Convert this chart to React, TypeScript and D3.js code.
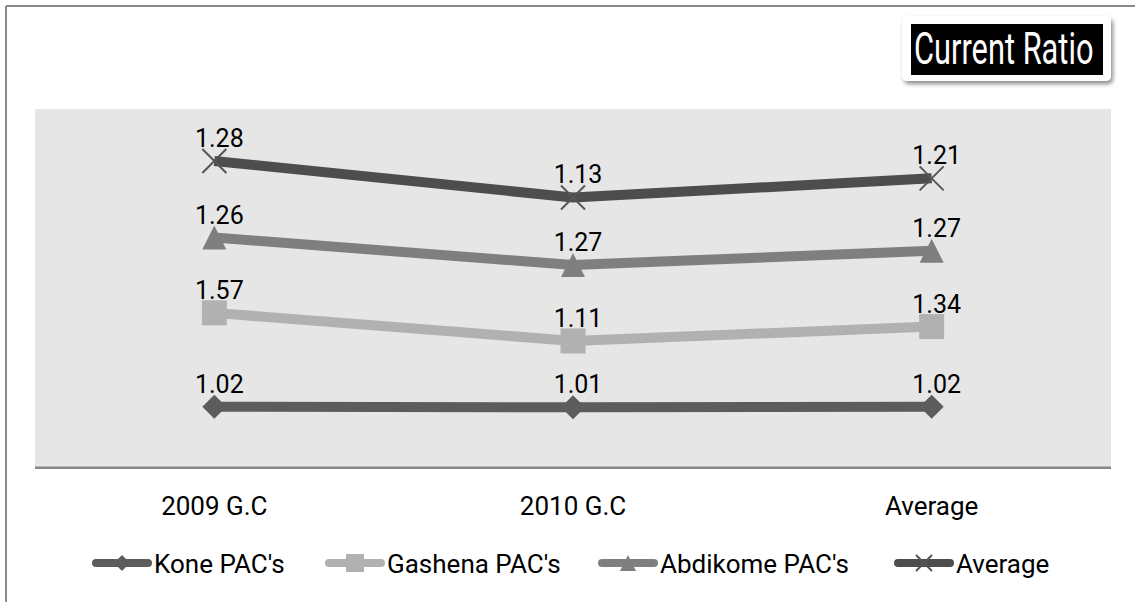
import React from "react";
import * as d3 from "d3";

const categories = ["2009 G.C", "2010 G.C", "Average"];
const seriesNames = ["Kone PAC's", "Gashena PAC's", "Abdikome PAC's", "Average"];
const kone = [1.02, 1.01, 1.02];
const gashena = [1.57, 1.11, 1.34];
const abdikome = [1.26, 1.27, 1.27];
const average = [1.28, 1.13, 1.21];
const yDomain = [0, 6];
const title = "Current Ratio";

const W = 1135;
const H = 602;
const plot = { x0: 35, x1: 1111, y0: 109, y1: 467.7 };

const colors = ["#5c5c5c", "#b1b1b1", "#7f7f7f", "#4d4d4d"];
const markerKinds = ["diamond", "square", "triangle", "x"];
const legendX = [92, 325, 598, 894];
const FONT = "Roboto, 'Liberation Sans', sans-serif";

function markerPath(kind: string, s: number): string {
  const h = s / 2;
  if (kind === "diamond") return `M0,${-h}L${h},0L0,${h}L${-h},0Z`;
  if (kind === "square") return `M${-h},${-h}H${h}V${h}H${-h}Z`;
  if (kind === "triangle") return `M0,${-h}L${h},${h}L${-h},${h}Z`;
  return `M${-h},${-h}L${h},${h}M${h},${-h}L${-h},${h}`;
}

export default function App() {
  const values = [kone, gashena, abdikome, average];
  const table = categories.map((c, i) => {
    const row: any = { cat: c };
    seriesNames.forEach((s, j) => (row[s] = values[j][i]));
    return row;
  });
  const stacked = d3.stack().keys(seriesNames)(table);

  const x = d3.scaleBand().domain(categories).range([plot.x0, plot.x1]);
  const y = d3.scaleLinear().domain(yDomain).range([plot.y1, plot.y0]);
  const cx = (c: string) => (x(c) as number) + x.bandwidth() / 2;

  const line = d3
    .line<[number, number]>()
    .x((d) => d[0])
    .y((d) => d[1]);

  return (
    <svg
      width={W}
      height={H}
      style={{ position: "absolute", left: 0, top: 0, background: "#fff" }}
      fontFamily={FONT}
    >
      <defs>
        <filter id="sh" x="-10%" y="-10%" width="130%" height="150%">
          <feDropShadow dx="2" dy="3" stdDeviation="2" floodColor="#000" floodOpacity="0.45" />
        </filter>
      </defs>
      <rect x={0} y={0} width={W} height={H} fill="#fff" />
      {/* outer chart border */}
      <line x1={6} y1={6} x2={W} y2={6} stroke="#8a8a8a" strokeWidth={2} />
      <line x1={6} y1={6} x2={6} y2={H} stroke="#8a8a8a" strokeWidth={2} />

      {/* plot area */}
      <rect x={plot.x0} y={plot.y0} width={plot.x1 - plot.x0} height={plot.y1 - plot.y0} fill="#e6e6e6" />
      <line x1={plot.x0} x2={plot.x1} y1={y(0)} y2={y(0)} stroke="#878787" strokeWidth={2.5} />

      {/* category labels */}
      {categories.map((c) => (
        <text key={c} x={cx(c)} y={515} textAnchor="middle" fontSize={26} fill="#000">
          {c}
        </text>
      ))}

      {/* lines */}
      {stacked.map((layer, j) => {
        const pts: [number, number][] = layer.map((d, i) => [cx(categories[i]), y(d[1])]);
        return (
          <path
            key={"l" + j}
            d={line(pts) || ""}
            fill="none"
            stroke={colors[j]}
            strokeWidth={10}
            strokeLinejoin="round"
          />
        );
      })}

      {/* markers and labels */}
      {stacked.map((layer, j) =>
        layer.map((d, i) => {
          const px = cx(categories[i]);
          const py = y(d[1]);
          const kind = markerKinds[j];
          const sz = kind === "square" ? 25 : 24;
          return (
            <g key={"m" + j + "-" + i}>
              <path
                d={markerPath(kind, sz)}
                transform={`translate(${px},${py})`}
                fill={kind === "x" ? "none" : colors[j]}
                stroke={kind === "x" ? "#555" : "none"}
                strokeWidth={kind === "x" ? 2 : 0}
              />
              <text x={px + 5} y={py - 14} textAnchor="middle" fontSize={25} fill="#000">
                {values[j][i].toFixed(2)}
              </text>
            </g>
          );
        })
      )}

      {/* title */}
      <rect x={902} y={16} width={209} height={65} rx={5} fill="#fff" filter="url(#sh)" />
      <rect x={911} y={24} width={192} height={51} fill="#000" />
      <g transform="translate(914,64) scale(0.7,1)">
        <text x={0} y={0} fontSize={44} fill="#fff">
          {title}
        </text>
      </g>

      {/* legend */}
      {seriesNames.map((s, j) => {
        const lx = legendX[j];
        const ly = 563;
        const kind = markerKinds[j];
        return (
          <g key={"lg" + j}>
            <line x1={lx + 4} x2={lx + 56} y1={ly} y2={ly} stroke={colors[j]} strokeWidth={8} strokeLinecap="round" />
            <path
              d={markerPath(kind, kind === "square" ? 18 : 16)}
              transform={`translate(${lx + 30},${ly})`}
              fill={kind === "x" ? "none" : colors[j]}
              stroke={kind === "x" ? "#555" : "none"}
              strokeWidth={kind === "x" ? 2 : 0}
            />
            <text x={lx + 62} y={ly + 10} fontSize={26} fill="#000">
              {s}
            </text>
          </g>
        );
      })}
    </svg>
  );
}
